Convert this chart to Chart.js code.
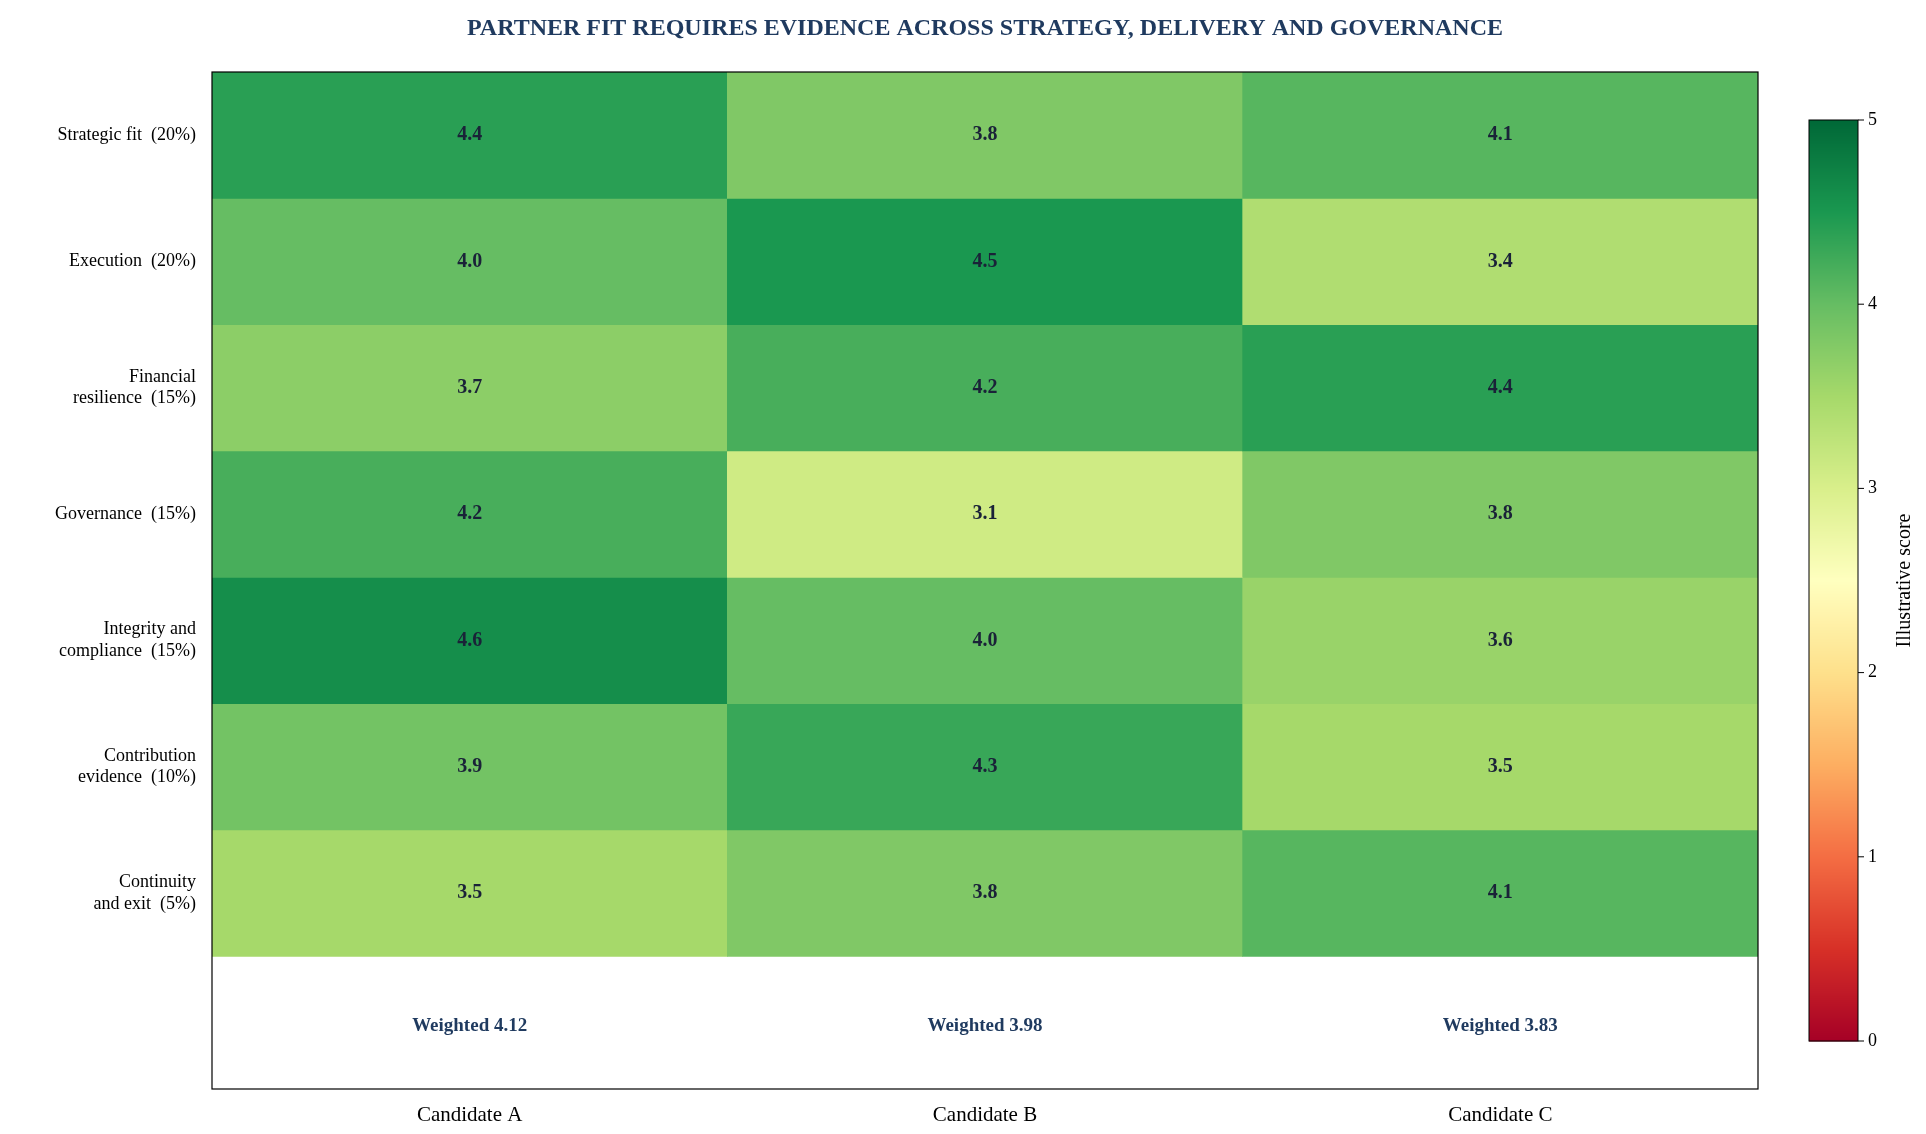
<!DOCTYPE html>
<html><head><meta charset="utf-8">
<script src="https://cdn.jsdelivr.net/npm/chart.js@4"></script>
<style>html,body{margin:0;padding:0;background:#fff}#c{display:block}</style>
</head><body>
<canvas id="c" width="1926" height="1134"></canvas>
<script>
const candidates = ["Candidate A","Candidate B","Candidate C"];
const criteria = [["Strategic fit  (20%)"],["Execution  (20%)"],["Financial","resilience  (15%)"],["Governance  (15%)"],["Integrity and","compliance  (15%)"],["Contribution","evidence  (10%)"],["Continuity","and exit  (5%)"]];
const scoreA = [4.4,4.0,3.7,4.2,4.6,3.9,3.5];
const scoreB = [3.8,4.5,4.2,3.1,4.0,4.3,3.8];
const scoreC = [4.1,3.4,4.4,3.8,3.6,3.5,4.1];
const weighted = [4.12,3.98,3.83];
const cbTicks = [0,1,2,3,4,5];
const titleText = "PARTNER FIT REQUIRES EVIDENCE ACROSS STRATEGY, DELIVERY AND GOVERNANCE";

const stops = ["#a50026","#d73027","#f46d43","#fdae61","#fee08b","#ffffbf","#d9ef8b","#a6d96a","#66bd63","#1a9850","#006837"];
function hex(h){return [1,3,5].map(i=>parseInt(h.substr(i,2),16));}
function cmap(t){t=Math.max(0,Math.min(1,t));const p=t*10;const i=Math.min(9,Math.floor(p));const f=p-i;
 const a=hex(stops[i]),b=hex(stops[i+1]);return `rgb(${a.map((v,k)=>Math.round(v+(b[k]-v)*f)).join(",")})`;}
const cols=[scoreA,scoreB,scoreC];
const datasets = criteria.map((c,r)=>({
  data: cols.map(()=>[r,r+1]),
  backgroundColor: cols.map(s=>cmap(s[r]/5)),
  borderWidth:0, barPercentage:1, categoryPercentage:1, grouped:false
}));
const serif = "'Liberation Serif','Times New Roman',serif";
const plug = {
  id:'extra',
  afterDatasetsDraw(ch){
    const ctx=ch.ctx, x=ch.scales.x, y=ch.scales.y, a=ch.chartArea;
    ctx.save();
    ctx.textAlign='center'; ctx.textBaseline='middle';
    ctx.font="bold 20px "+serif; ctx.fillStyle="#1a2238";
    criteria.forEach((c,r)=>cols.forEach((s,i)=>{
      ctx.fillText(s[r].toFixed(1), x.getPixelForValue(i), y.getPixelForValue(r+0.5));
    }));
    ctx.fillStyle="#1f3a5f"; ctx.font="bold 19px "+serif;
    weighted.forEach((w,i)=>ctx.fillText("Weighted "+w.toFixed(2), x.getPixelForValue(i), y.getPixelForValue(7.55)));
    ctx.strokeStyle="#000"; ctx.lineWidth=1.2; ctx.strokeRect(a.left,a.top,a.right-a.left,a.bottom-a.top);
    // title
    ctx.fillStyle="#1f3a5f"; ctx.font="bold 24px "+serif;
    ctx.fillText(titleText,(a.left+a.right)/2,29);
    // colorbar
    const cx=1809,cw=49,ct=120,cb=1041;
    for(let py=ct;py<cb;py++){ctx.fillStyle=cmap(1-(py-ct)/(cb-ct));ctx.fillRect(cx,py,cw,1.5);}
    ctx.strokeStyle="#000"; ctx.lineWidth=1; ctx.strokeRect(cx,ct,cw,cb-ct);
    ctx.fillStyle="#000"; ctx.font="18px "+serif; ctx.textAlign='left';
    cbTicks.forEach(v=>{const py=cb-(cb-ct)*v/5;ctx.beginPath();ctx.moveTo(cx+cw,py);ctx.lineTo(cx+cw+6,py);ctx.stroke();ctx.fillText(String(v),cx+cw+10,py);});
    ctx.translate(1905,(ct+cb)/2); ctx.rotate(-Math.PI/2); ctx.textAlign='center'; ctx.font="20px "+serif;
    ctx.fillText("Illustrative score",0,0);
    ctx.restore();
  }
};
new Chart(document.getElementById('c'),{
  type:'bar',
  data:{labels:candidates,datasets},
  options:{
    responsive:false, animation:false, devicePixelRatio:1,
    layout:{padding:{top:72,right:168,left:0,bottom:0}},
    plugins:{legend:{display:false},tooltip:{enabled:false}},
    scales:{
      x:{grid:{display:false},border:{display:false},
         ticks:{color:"#000",font:{family:serif,size:21},padding:6},
         afterFit(s){s.height=45;}},
      y:{min:0,max:8.05,reverse:true,grid:{display:false},border:{display:false},
         afterBuildTicks(s){s.ticks=criteria.map((_,i)=>({value:i+0.5}));},
         ticks:{color:"#000",font:{family:serif,size:18},padding:8,
           callback:(v)=>criteria[Math.floor(v)]},
         afterFit(s){s.width=212;}}
    }
  },
  plugins:[plug]
});
</script>
</body></html>
